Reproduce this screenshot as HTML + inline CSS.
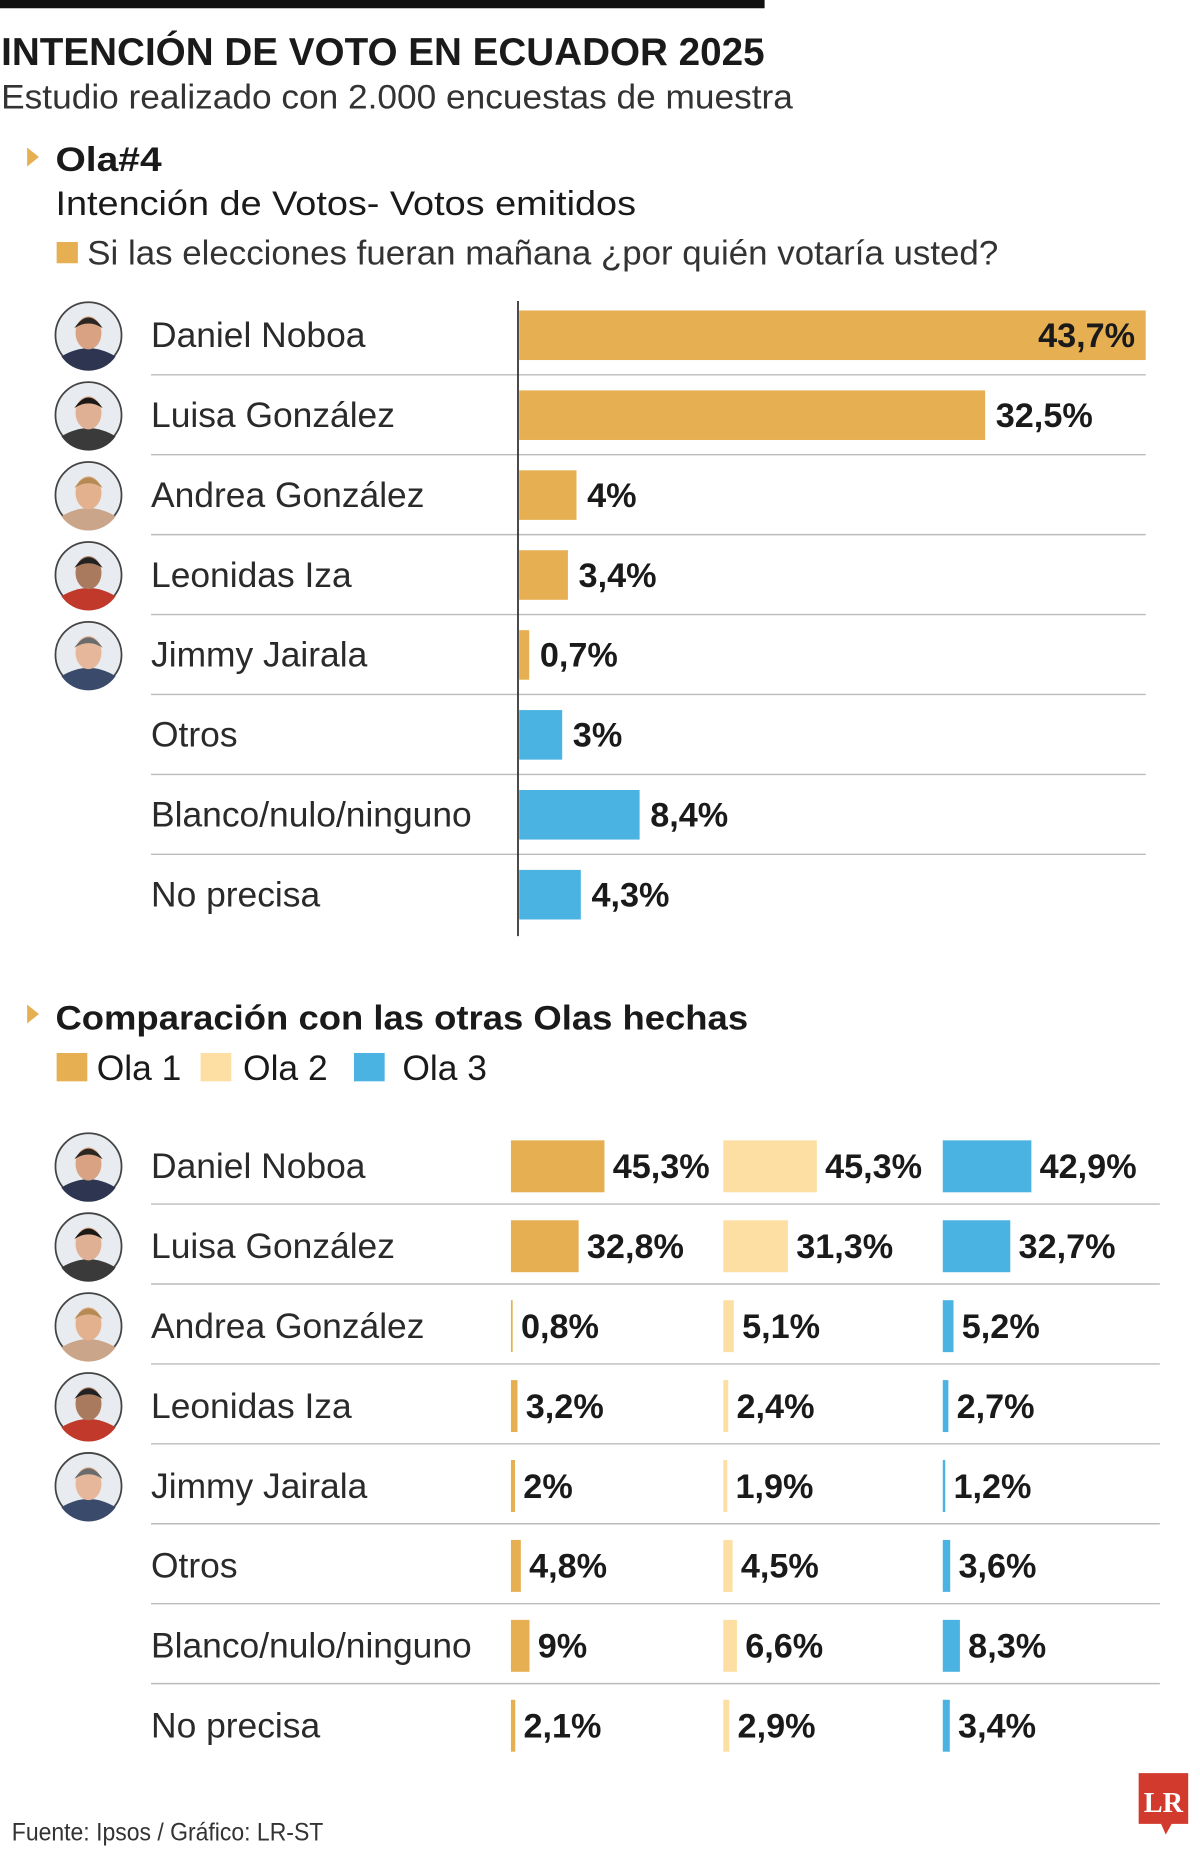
<!DOCTYPE html>
<html><head><meta charset="utf-8">
<style>
html,body{margin:0;padding:0;background:#fff;}
svg{display:block;}
text{font-family:"Liberation Sans",sans-serif;fill:#1a1a1a;}
.lab{font-size:30px;fill:#2a2a2a;}
.val{font-size:29px;font-weight:bold;}
</style></head>
<body>
<svg id="chart" width="1200" height="1851" viewBox="0 0 1017 1568" preserveAspectRatio="none" xmlns="http://www.w3.org/2000/svg">
<rect x="0" y="0" width="648" height="7" fill="#111"/>
<text x="1" y="55" font-size="33" font-weight="bold" textLength="647" lengthAdjust="spacingAndGlyphs">INTENCIÓN DE VOTO EN ECUADOR 2025</text>
<text x="1" y="92" font-size="29" textLength="671" lengthAdjust="spacingAndGlyphs" style="fill:#333">Estudio realizado con 2.000 encuestas de muestra</text>
<polygon points="23,125 33,133 23,141" fill="#E6B052"/>
<text x="47" y="145" font-size="29" font-weight="bold" textLength="90" lengthAdjust="spacingAndGlyphs">Ola#4</text>
<text x="47" y="182" font-size="29" textLength="492" lengthAdjust="spacingAndGlyphs">Intención de Votos- Votos emitidos</text>
<rect x="48" y="205" width="18" height="18" fill="#E6B052"/>
<text x="74" y="224" font-size="29" textLength="772" lengthAdjust="spacingAndGlyphs" style="fill:#333">Si las elecciones fueran mañana ¿por quién votaría usted?</text>
<g id="c1"></g>
<polygon points="23,851 33,859 23,867" fill="#E6B052"/>
<text x="47" y="872" font-size="29" font-weight="bold" textLength="587" lengthAdjust="spacingAndGlyphs">Comparación con las otras Olas hechas</text>
<rect x="48" y="892" width="26" height="24" fill="#E6B052"/>
<text x="82" y="915" font-size="30">Ola 1</text>
<rect x="170" y="892" width="26" height="24" fill="#FDDFA3"/>
<text x="206" y="915" font-size="30">Ola 2</text>
<rect x="300" y="892" width="26" height="24" fill="#4BB3E2"/>
<text x="341" y="915" font-size="30">Ola 3</text>
<g id="c2"></g>
<text x="10" y="1559" font-size="21" textLength="264" lengthAdjust="spacingAndGlyphs" style="fill:#333">Fuente: Ipsos / Gráfico: LR-ST</text>
<g>
<path d="M965,1502 H1007 V1545 H993 L988,1554 L984,1545 H965 Z" fill="#D23A2E"/>
<text x="986" y="1535" font-size="24" font-weight="bold" text-anchor="middle" style="fill:#fff;font-family:'Liberation Serif',serif">LR</text>
</g>
</svg>
<script>
const names = ["Daniel Noboa","Luisa González","Andrea González","Leonidas Iza","Jimmy Jairala","Otros","Blanco/nulo/ninguno","No precisa"];
const labelsOla4 = ["43,7%","32,5%","4%","3,4%","0,7%","3%","8,4%","4,3%"];
const valuesOla4 = [43.7,32.5,4,3.4,0.7,3,8.4,4.3];
const valuesOla1 = [45.3,32.8,0.8,3.2,2,4.8,9,2.1];
const valuesOla2 = [45.3,31.3,5.1,2.4,1.9,4.5,6.6,2.9];
const valuesOla3 = [42.9,32.7,5.2,2.7,1.2,3.6,8.3,3.4];
const labelsOla1 = ["45,3%","32,8%","0,8%","3,2%","2%","4,8%","9%","2,1%"];
const labelsOla2 = ["45,3%","31,3%","5,1%","2,4%","1,9%","4,5%","6,6%","2,9%"];
const labelsOla3 = ["42,9%","32,7%","5,2%","2,7%","1,2%","3,6%","8,3%","3,4%"];

const NS="http://www.w3.org/2000/svg";
function mk(tag,attrs,parent){const e=document.createElementNS(NS,tag);for(const k in attrs)e.setAttribute(k,attrs[k]);parent.appendChild(e);return e;}
const skin=["#d9a383","#e0b095","#e3b18e","#a97a5e","#e6b79a"];
const hair=["#2b2622","#1c1816","#b58a55","#222","#6b6b6b"];
const cloth=["#2d3550","#3a3a3a","#caa58a","#c0392b","#3a4a6a"];
function avatar(p,cy,i){
  const g=mk("g",{},p);
  
  
  mk("circle",{cx:75,cy:cy,r:28,fill:"#e8ecf0",stroke:"#444","stroke-width":1.5},g);
  mk("path",{d:`M52,${cy+18} Q75,${cy+4} 98,${cy+18} A28,28 0 0 1 52,${cy+18} Z`,fill:cloth[i]},g);
  mk("ellipse",{cx:75,cy:cy-2,rx:11,ry:14,fill:skin[i]},g);
  mk("path",{d:`M63,${cy-6} Q75,${cy-24} 87,${cy-6} Q75,${cy-14} 63,${cy-6} Z`,fill:hair[i]},g);
}
const c1=document.getElementById('c1');
const r1y0=284, rstep=67.7, x1=440, k1=531/43.7, bh=42;
const y1=i=>r1y0+i*rstep;
const xs1=v=>v*k1;
names.forEach((n,i)=>{
  const cy=y1(i);
  if(i<5) avatar(c1,cy,i);
  const t=mk("text",{x:128,y:cy+10,class:"lab"},c1);t.textContent=n;
  
  
  if(i<names.length-1){const l=mk("line",{x1:128,x2:971,y1:cy+33.5,y2:cy+33.5,stroke:"#bbb","stroke-width":1.2},c1);
    
    }
  const col=i<5?"#E6B052":"#4BB3E2";
  const w=xs1(valuesOla4[i]);
  const b=mk("rect",{x:x1,y:cy-bh/2,width:w,height:bh,fill:col},c1);
  
  
  const inside = w>450;
  const v=mk("text",{x:inside?x1+w-9:x1+w+9,y:cy+10,class:"val","text-anchor":inside?"end":"start"},c1);
  v.textContent=labelsOla4[i];
  
  
});
const ax=mk("line",{x1:439,x2:439,y1:255,y2:793,stroke:"#333","stroke-width":1.5},c1);


const c2=document.getElementById('c2');
const r2y0=988, k2=1.75, bh2=44;
const y2=i=>r2y0+i*rstep;
const groups=[[433,valuesOla1,labelsOla1,"#E6B052","bar-ola1"],[613,valuesOla2,labelsOla2,"#FDDFA3","bar-ola2"],[799,valuesOla3,labelsOla3,"#4BB3E2","bar-ola3"]];
names.forEach((n,i)=>{
  const cy=y2(i);
  if(i<5) avatar(c2,cy,i);
  const t=mk("text",{x:128,y:cy+10,class:"lab"},c2);t.textContent=n;
  
  
  if(i<names.length-1){const l=mk("line",{x1:128,x2:983,y1:cy+32,y2:cy+32,stroke:"#bbb","stroke-width":1.2},c2);
    
    }
  groups.forEach(g=>{
    const w=Math.max(g[1][i]*k2,1.5);
    const b=mk("rect",{x:g[0],y:cy-bh2/2,width:w,height:bh2,fill:g[3]},c2);
    
    
    const v=mk("text",{x:g[0]+w+7,y:cy+10,class:"val"},c2);
    v.textContent=g[2][i];
    
    
  });
});
</script>
</body></html>
